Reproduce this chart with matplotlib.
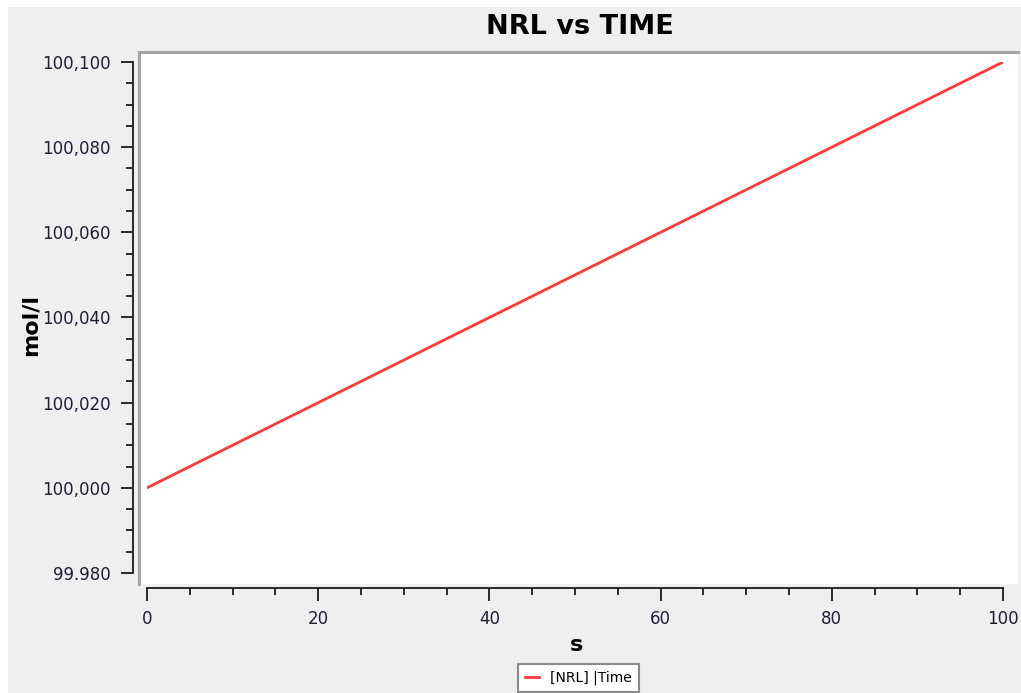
import matplotlib
matplotlib.use("Agg")
import matplotlib.pyplot as plt
from matplotlib.patches import Rectangle
from matplotlib.ticker import FixedLocator, MultipleLocator

# Data
time_s = [0, 10, 20, 30, 40, 50, 60, 70, 80, 90, 100]
nrl_mol_l = [100.000, 100.010, 100.020, 100.030, 100.040, 100.050,
             100.060, 100.070, 100.080, 100.090, 100.100]
y_ticks = [99.98, 100.00, 100.02, 100.04, 100.06, 100.08, 100.10]
y_tick_labels = ["99.980", "100,000", "100,020", "100,040", "100,060", "100,080", "100,100"]
x_ticks = [0, 20, 40, 60, 80, 100]
x_tick_labels = ["0", "20", "40", "60", "80", "100"]

W, H = 1021, 693
fig = plt.figure(figsize=(W / 100, H / 100), dpi=100, facecolor="white")

def fx(px):
    return px / W

def fy(py):
    return 1 - py / H

# grey panel
fig.patches.append(Rectangle((fx(8), 0), 1 - fx(8), fy(7), transform=fig.transFigure,
                             facecolor="#efefef", edgecolor="none", zorder=-3))
# white plot area
fig.patches.append(Rectangle((fx(139), fy(584)), fx(1018 - 139), (584 - 52) / H,
                             transform=fig.transFigure, facecolor="white",
                             edgecolor="none", zorder=-2))
# grey borders top and left
fig.lines.append(plt.Line2D([fx(139), fx(1018)], [fy(52), fy(52)], transform=fig.transFigure,
                            color="#a6a6a6", lw=2.2, zorder=-1))
fig.lines.append(plt.Line2D([fx(139), fx(139)], [fy(52), fy(584)], transform=fig.transFigure,
                            color="#a6a6a6", lw=2.2, zorder=-1))

ax = fig.add_axes([fx(147), fy(573), fx(1003 - 147), (573 - 62) / H])
ax.patch.set_alpha(0)
ax.plot(time_s, nrl_mol_l, color="#ff3a3a", lw=2.0, label="[NRL] |Time")
ax.set_xlim(0, 100)
ax.set_ylim(99.98, 100.10)

for s in ["top", "right"]:
    ax.spines[s].set_visible(False)
ax.spines["left"].set_position(("outward", 14 * 0.72))
ax.spines["bottom"].set_position(("outward", 15 * 0.72))
for s in ["left", "bottom"]:
    ax.spines[s].set_linewidth(1.3)
    ax.spines[s].set_color("#1a1a1a")

ax.yaxis.set_major_locator(FixedLocator(y_ticks))
ax.set_yticklabels(y_tick_labels)
ax.yaxis.set_minor_locator(MultipleLocator(0.005))
ax.xaxis.set_major_locator(FixedLocator(x_ticks))
ax.set_xticklabels(x_tick_labels)
ax.xaxis.set_minor_locator(MultipleLocator(5))

ax.tick_params(axis="both", which="major", length=9, width=1.3, color="#1a1a1a",
               labelsize=12, labelcolor="#1e1e36")
ax.tick_params(axis="both", which="minor", length=5, width=1.3, color="#1a1a1a")
ax.tick_params(axis="y", which="major", pad=7)
ax.tick_params(axis="x", which="major", pad=7)

fig.text(fx(580), fy(27), "NRL vs TIME", ha="center", va="center",
         fontsize=19.5, fontweight="bold", color="black")
fig.text(fx(31), fy(325), "mol/l", ha="center", va="center", rotation=90,
         fontsize=16, fontweight="bold", color="black")
fig.text(fx(576), fy(645), "s", ha="center", va="center",
         fontsize=16, fontweight="bold", color="black")

leg = fig.legend(loc="upper left", bbox_to_anchor=(fx(518), fy(664)), fontsize=10,
                 frameon=True, fancybox=False, edgecolor="#8a8a8a", facecolor="white",
                 handlelength=1.0, handletextpad=0.8, borderpad=0.5, framealpha=1,
                 borderaxespad=0)
leg.get_frame().set_linewidth(1.5)

fig.savefig("out.png", dpi=100, facecolor=fig.get_facecolor())
